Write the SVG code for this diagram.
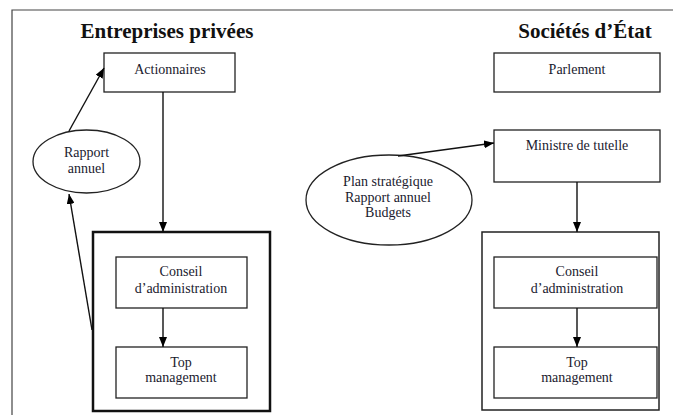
<svg xmlns="http://www.w3.org/2000/svg" width="673" height="415" viewBox="0 0 673 415">
<defs>
<marker id="ah" markerWidth="10" markerHeight="8" refX="10" refY="4" orient="auto" markerUnits="userSpaceOnUse">
<path d="M0,0 L10,4 L0,8 Z" fill="#000"/>
</marker>
</defs>
<style>
.t{font-family:"Liberation Serif","Times New Roman",serif;font-size:14px;fill:#1a1a2e;text-anchor:middle}
.h{font-family:"Liberation Serif","Times New Roman",serif;font-size:21px;font-weight:bold;fill:#111;text-anchor:middle}
.b{fill:#fff;stroke:#222;stroke-width:1.3}
.c{fill:none;stroke:#111;stroke-width:1.4}
</style>
<rect width="673" height="415" fill="#fff"/>
<path d="M12,415 L12,10 L673,10" fill="none" stroke="#444" stroke-width="1.2"/>
<text class="h" x="167" y="38">Entreprises privées</text>
<text class="h" x="585" y="38">Sociétés d’État</text>

<g id="actionnaires"><rect class="b" x="104" y="53" width="131" height="39"/><text class="t" x="170" y="74">Actionnaires</text></g>
<g id="rapport"><ellipse class="b" cx="86.5" cy="161.5" rx="53.5" ry="31.5"/><text class="t" x="86.5" y="157">Rapport</text><text class="t" x="86.5" y="173">annuel</text></g>
<g id="cadre-prive"><rect x="93" y="232" width="177" height="179" fill="none" stroke="#111" stroke-width="2.5"/></g>
<g id="conseil-prive"><rect class="b" x="116" y="257" width="131" height="51"/><text class="t" x="181" y="276">Conseil</text><text class="t" x="181" y="293">d’administration</text></g>
<g id="top-prive"><rect class="b" x="116" y="347" width="131" height="51"/><text class="t" x="181" y="367">Top</text><text class="t" x="181" y="382">management</text></g>

<g id="parlement"><rect class="b" x="494" y="53" width="166" height="39"/><text class="t" x="577" y="74">Parlement</text></g>
<g id="ministre"><rect class="b" x="494" y="130" width="166" height="52"/><text class="t" x="577" y="150">Ministre de tutelle</text></g>
<g id="plan"><ellipse class="b" cx="389" cy="200" rx="83" ry="45"/><text class="t" x="388" y="186">Plan stratégique</text><text class="t" x="388" y="202">Rapport annuel</text><text class="t" x="388" y="217">Budgets</text></g>
<g id="cadre-etat"><rect x="482" y="232" width="177" height="178" fill="none" stroke="#222" stroke-width="1.5"/></g>
<g id="conseil-etat"><rect class="b" x="494" y="257" width="163" height="51"/><text class="t" x="577" y="276">Conseil</text><text class="t" x="577" y="293">d’administration</text></g>
<g id="top-etat"><rect class="b" x="494" y="347" width="163" height="51"/><text class="t" x="577" y="367">Top</text><text class="t" x="577" y="382">management</text></g>

<g id="connecteurs">
<line class="c" x1="163" y1="92" x2="163" y2="232" marker-end="url(#ah)"/>
<line class="c" x1="69" y1="131" x2="104" y2="68" marker-end="url(#ah)"/>
<line class="c" x1="92" y1="330" x2="69" y2="194" marker-end="url(#ah)"/>
<line class="c" x1="163" y1="308" x2="163" y2="347" marker-end="url(#ah)"/>
<line class="c" x1="398" y1="156" x2="494" y2="143" marker-end="url(#ah)"/>
<line class="c" x1="577" y1="182" x2="577" y2="232" marker-end="url(#ah)"/>
<line class="c" x1="577" y1="308" x2="577" y2="347" marker-end="url(#ah)"/>
</g>
</svg>
